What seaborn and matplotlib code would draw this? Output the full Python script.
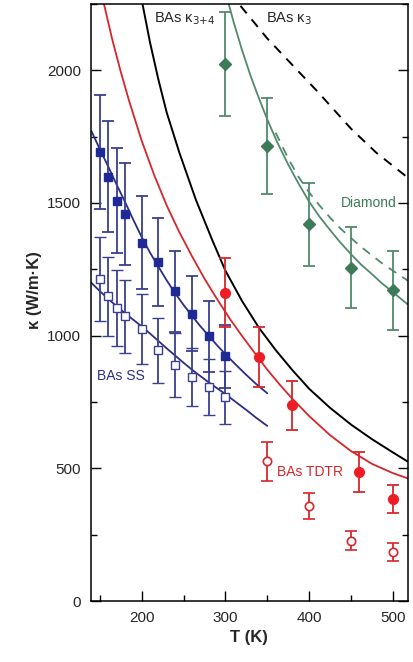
import matplotlib
matplotlib.use("Agg")
import matplotlib.pyplot as plt
import seaborn as sns
from matplotlib.ticker import MultipleLocator

ss_T = [150, 160, 170, 180, 200, 220, 240, 260, 280, 300]
ss_filled = [1693, 1599, 1509, 1459, 1350, 1278, 1167, 1083, 997, 922]
ss_filled_err = [215, 210, 197, 192, 176, 165, 152, 140, 133, 120]
ss_open = [1215, 1148, 1104, 1073, 1026, 945, 889, 844, 806, 767]
ss_open_err = [158, 150, 143, 138, 132, 123, 120, 108, 105, 99]

tdtr_T = [300, 340, 380, 460, 500]
tdtr_filled = [1161, 919, 738, 485, 384]
tdtr_filled_err = [130, 113, 92, 76, 53]
tdtr_open_T = [350, 400, 450, 500]
tdtr_open = [526, 358, 228, 184]
tdtr_open_err = [75, 49, 36, 35]

dia_T = [300, 350, 400, 450, 500]
dia_k = [2023, 1715, 1419, 1256, 1171]
dia_err = [197, 180, 158, 153, 148]

# Curves
fit_T = [140, 150, 160, 170, 180, 190, 200, 210, 220, 230, 240, 250, 260,
         270, 280, 290, 300, 312, 325, 337, 350]
fit_filled = [1771, 1703, 1638, 1570, 1505, 1437, 1372, 1313, 1260, 1208, 1160,
              1116, 1075, 1036, 1000, 964, 930, 892, 852, 817, 783]
fit_open = [1199, 1168, 1139, 1111, 1085, 1060, 1035, 1008, 980, 952, 925,
            898, 872, 848, 824, 802, 780, 751, 720, 690, 660]

red_T = [155, 165, 175, 185, 200, 215, 230, 245, 260, 275, 290, 305, 320,
         335, 350, 365, 380, 400, 425, 450, 475, 500, 518]
red_k = [2250, 2115, 1995, 1885, 1735, 1605, 1490, 1390, 1300, 1215, 1138,
         1065, 998, 935, 872, 815, 762, 697, 625, 565, 517, 482, 462]

k34_T = [201, 210, 220, 230, 245, 265, 285, 300, 320, 340, 360, 380, 400,
         425, 450, 475, 500, 518]
k34_k = [2250, 2105, 1965, 1840, 1690, 1510, 1355, 1245, 1130, 1030, 946, 870,
         800, 728, 665, 610, 560, 525]

k3_T = [318, 350, 380, 410, 450, 480, 518]
k3_k = [2243, 2120, 2020, 1920, 1780, 1690, 1595]

dia_fit_T = [304, 310, 320, 330, 340, 350, 362, 375, 387, 400, 412, 425,
             437, 450, 462, 475, 487, 500, 518]
dia_fit_k = [2250, 2180, 2075, 1980, 1895, 1815, 1728, 1645, 1575, 1505, 1450,
             1398, 1352, 1307, 1268, 1232, 1197, 1164, 1117]
dia_dash_T = [360, 375, 387, 400, 412, 425, 437, 450, 462, 475, 487, 500, 518]
dia_dash_k = [1765, 1668, 1600, 1540, 1492, 1445, 1405, 1368, 1335, 1302, 1273,
              1245, 1207]

blue = "#2b2e83"
blue_pt = "#1f2a96"
blue_bar = "#3a3f90"
red = "#d7262b"
red_pt = "#ee1c25"
green = "#4f8a6b"
green_pt = "#3d7a5a"

sns.set_style("ticks")
plt.rcParams["font.family"] = ["Liberation Sans", "DejaVu Sans"]

fig = plt.figure(figsize=(4.13, 6.62), dpi=100)
ax = fig.add_axes([0.2203, 0.0921, 0.7665, 0.9019])

# theory / fit curves
sns.lineplot(x=fit_T, y=fit_filled, ax=ax, color=blue, lw=1.3)
sns.lineplot(x=fit_T, y=fit_open, ax=ax, color=blue, lw=1.3)
sns.lineplot(x=red_T, y=red_k, ax=ax, color=red, lw=1.3)
sns.lineplot(x=k34_T, y=k34_k, ax=ax, color="black", lw=1.4)
sns.lineplot(x=k3_T, y=k3_k, ax=ax, color="black", lw=1.4, linestyle=(0, (5, 4)))
sns.lineplot(x=dia_fit_T, y=dia_fit_k, ax=ax, color=green, lw=1.3)
sns.lineplot(x=dia_dash_T, y=dia_dash_k, ax=ax, color=green, lw=1.3,
             linestyle=(0, (5, 4)))

# data points with error bars
eb = dict(capsize=4, elinewidth=1.3, capthick=1.3, lw=0)
ax.errorbar(ss_T, ss_filled, yerr=ss_filled_err, fmt="s", ms=6, color=blue_pt,
            ecolor=blue_bar, **eb)
ax.errorbar(ss_T, ss_open, yerr=ss_open_err, fmt="s", ms=5.5, mfc="white",
            mec=blue_bar, mew=1.0, ecolor=blue_bar, **eb)
ax.errorbar(tdtr_T, tdtr_filled, yerr=tdtr_filled_err, fmt="o", ms=7, color=red_pt,
            ecolor=red, **eb)
ax.errorbar(tdtr_open_T, tdtr_open, yerr=tdtr_open_err, fmt="o", ms=6, mfc="white",
            mec=red, mew=1.2, ecolor=red, **eb)
ax.errorbar(dia_T, dia_k, yerr=dia_err, fmt="D", ms=6.5, color=green_pt,
            ecolor=green, **eb)

ax.set_xlim(139.5, 517.5)
ax.set_ylim(0, 2250)


# label positions measured in pixels on the reference -> data coords
def px(x, y):
    return 200 + (x - 141.7) / 0.8377, (601 - y) / 0.2655


ax.text(*px(154, 18), "BAs κ$_{3{+}4}$", fontsize=10.5, va="center", ha="left")
ax.text(*px(266, 18), "BAs κ$_{3}$", fontsize=10.5, va="center", ha="left")
ax.text(*px(397, 203), "Diamond", fontsize=10, color=green_pt, va="center", ha="right")
ax.text(*px(97, 376), "BAs SS", fontsize=10, color=blue, va="center", ha="left")
ax.text(*px(277, 472), "BAs TDTR", fontsize=10, color=red, va="center", ha="left")

ax.xaxis.set_major_locator(MultipleLocator(100))
ax.xaxis.set_minor_locator(MultipleLocator(50))
ax.yaxis.set_major_locator(MultipleLocator(500))
ax.yaxis.set_minor_locator(MultipleLocator(250))
ax.tick_params(which="both", direction="in", right=True, top=False, labelsize=11,
               width=1.0, color="black")
ax.tick_params(which="major", length=7, pad=7)
ax.tick_params(which="minor", length=4)

for s in ax.spines.values():
    s.set_linewidth(1.1)
    s.set_color("black")

ax.set_xlabel("T (K)", fontsize=12, fontweight="bold", labelpad=4)
ax.set_ylabel("κ (W/m·K)", fontsize=12, fontweight="bold", labelpad=6)
ax.yaxis.set_label_coords(-0.155, 0.52)

fig.savefig("out.png", dpi=100)
